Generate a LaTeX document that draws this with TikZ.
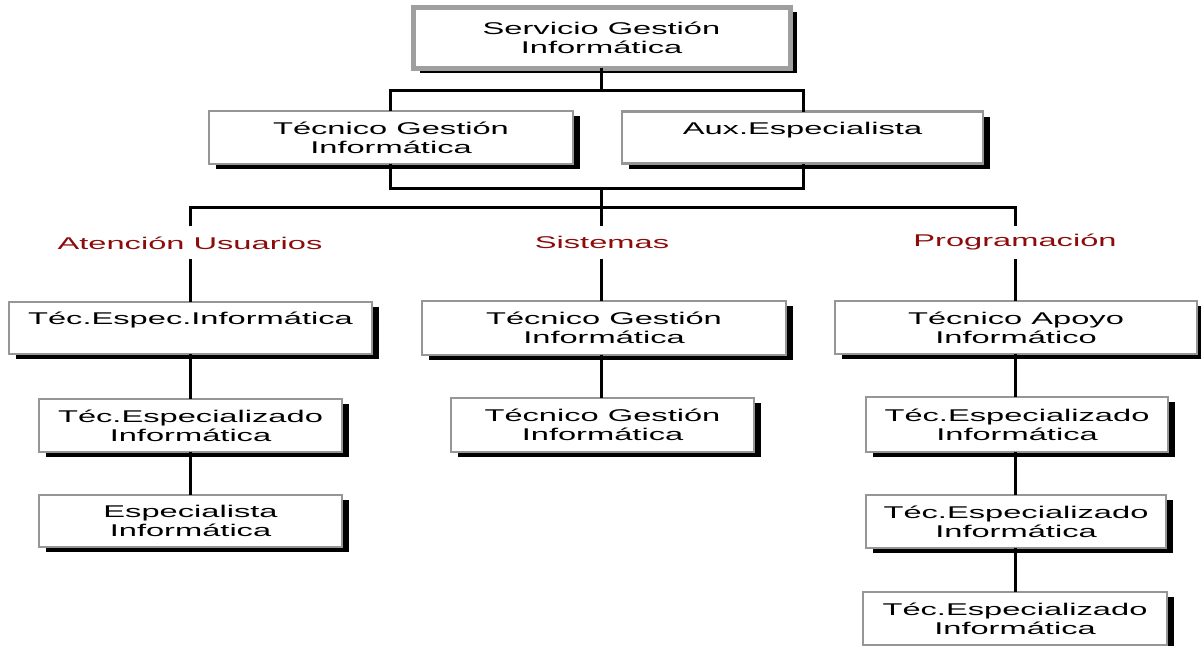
\documentclass[tikz,border=0pt]{standalone}
\usepackage{fontspec}
\setmainfont{Liberation Sans}
\newfontfamily\orgfont[FakeStretch=1.92]{Liberation Sans}
\usetikzlibrary{shadows}
\definecolor{boxgray}{RGB}{150,150,150}
\definecolor{lblred}{RGB}{140,12,12}
\tikzset{
  orgbox/.style={draw=boxgray, line width=2.5pt, fill=white, rectangle,
    inner sep=0pt, outer sep=0pt, align=center,
    font=\orgfont\fontsize{17}{19}\selectfont,
    drop shadow={shadow xshift=7pt, shadow yshift=-5pt, fill=black, opacity=1}},
  topbox/.style={orgbox, line width=5pt, draw=gray!75},
  grp/.style={text=lblred, inner sep=0pt, font=\orgfont\fontsize{17}{19}\selectfont},
  link/.style={line width=3pt, black}
}
\begin{document}
\begin{tikzpicture}[x=1pt,y=-1pt]
\useasboundingbox (0,0) rectangle (1201,645);
% boxes
\node[topbox, minimum width=377pt, minimum height=61pt] (top) at (601.5,37.5) {Servicio Gestión\\Informática};
\node[orgbox, minimum width=364pt, minimum height=53pt] (tg) at (391,137.5) {Técnico Gestión\\Informática};
\node[orgbox, minimum width=361pt, minimum height=52pt] (aux) at (802.5,137.5) {Aux.Especialista\\\mbox{}};
% labels
\node[grp] (lau) at (190,243) {Atención Usuarios};
\node[grp] (lsi) at (602,242) {Sistemas};
\node[grp] (lpr) at (1015,242) {Programación};
% Atención Usuarios
\node[orgbox, minimum width=363pt, minimum height=52pt] (au1) at (190.5,328) {Téc.Espec.Informática\\\mbox{}};
\node[orgbox, minimum width=303pt, minimum height=53pt] (au2) at (190.5,425.5) {Téc.Especializado\\Informática};
\node[orgbox, minimum width=303pt, minimum height=52pt] (au3) at (190.5,521) {Especialista\\Informática};
% Sistemas
\node[orgbox, minimum width=364pt, minimum height=54pt] (s1) at (604,328) {Técnico Gestión\\Informática};
\node[orgbox, minimum width=303pt, minimum height=54pt] (s2) at (602.5,425) {Técnico Gestión\\Informática};
% Programacion
\node[orgbox, minimum width=362pt, minimum height=53pt] (p1) at (1016,327.5) {Técnico Apoyo\\Informático};
\node[orgbox, minimum width=302pt, minimum height=55pt] (p2) at (1017,424.5) {Téc.Especializado\\Informática};
\node[orgbox, minimum width=300pt, minimum height=53pt] (p3) at (1016,521.5) {Téc.Especializado\\Informática};
\node[orgbox, minimum width=304pt, minimum height=53pt] (p4) at (1015,618.5) {Téc.Especializado\\Informática};
% connector coordinates
\coordinate (j1) at (601,90);
\coordinate (j1l) at (390,90);
\coordinate (j1r) at (803,90);
\coordinate (j2l) at (390,188);
\coordinate (j2r) at (803,188);
\coordinate (j2) at (601,188);
\coordinate (j3) at (601,207);
\coordinate (j3l) at (190,207);
\coordinate (j3r) at (1015,207);
\coordinate (t1) at (190,226);
\coordinate (t2) at (601,226);
\coordinate (t3) at (1015,226);
\coordinate (b1) at (190,259);
\coordinate (b2) at (601,259);
\coordinate (b3) at (1015,259);
% connectors
\draw[link] (top.south -| j1) -- (j1);
\draw[link] (tg.north -| j1l) -- (j1l) -- (j1r) -- (aux.north -| j1r);
\draw[link] (tg.south -| j2l) -- (j2l) -- (j2r) -- (aux.south -| j2r);
\draw[link] (j2) -- (j3);
\draw[link] (t1) -- (j3l) -- (j3r) -- (t3);
\draw[link] (j3) -- (t2);
\draw[link] (b1) -- (au1.north -| b1);
\draw[link] (au1.south -| b1) -- (au2.north -| b1);
\draw[link] (au2.south -| b1) -- (au3.north -| b1);
\draw[link] (b2) -- (s1.north -| b2);
\draw[link] (s1.south -| b2) -- (s2.north -| b2);
\draw[link] (b3) -- (p1.north -| b3);
\draw[link] (p1.south -| b3) -- (p2.north -| b3);
\draw[link] (p2.south -| b3) -- (p3.north -| b3);
\draw[link] (p3.south -| b3) -- (p4.north -| b3);
\end{tikzpicture}
\end{document}
